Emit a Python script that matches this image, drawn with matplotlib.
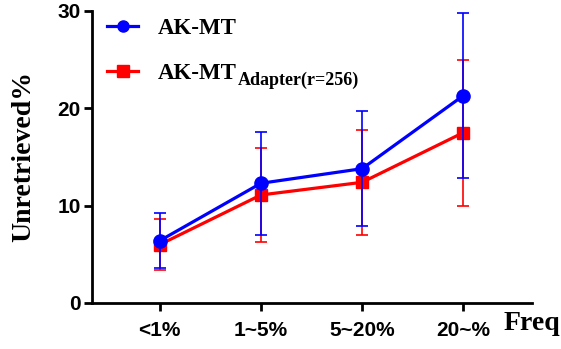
import matplotlib.pyplot as plt
from matplotlib.lines import Line2D
import numpy as np

FREQ = ["<1%", "1~5%", "5~20%", "20~%"]
AKMT = [6.4, 12.3, 13.8, 21.3]
AKMT_ERR = [2.8, 5.3, 5.9, 8.5]
ADAPTER = [6.0, 11.1, 12.4, 17.5]
ADAPTER_ERR = [2.6, 4.8, 5.4, 7.5]

BLUE = "#0000ff"
RED = "#ff0000"
SERIF = {"family": "Liberation Serif", "weight": "bold"}

fig = plt.figure(figsize=(5.61, 3.49), dpi=100)
ax = fig.add_axes([92 / 561, 1 - 303 / 349, 440 / 561, 292 / 349])

x = np.arange(len(FREQ))
ax.errorbar(x, ADAPTER, yerr=ADAPTER_ERR, color=RED, marker="s", ms=9,
            lw=2.3, elinewidth=1.2, capsize=4.5, capthick=1.2, clip_on=False,
            zorder=3)
ax.errorbar(x, AKMT, yerr=AKMT_ERR, color=BLUE, marker="o", ms=9.5,
            lw=2.3, elinewidth=1.2, capsize=4.5, capthick=1.2, clip_on=False,
            zorder=4)

ax.set_xlim(-0.67, 3.68)
ax.set_ylim(0, 30)
ax.set_yticks([0, 10, 20, 30])
ax.set_xticks(x)
ax.set_xticklabels(FREQ)
for s in ["top", "right"]:
    ax.spines[s].set_visible(False)
for s in ["left", "bottom"]:
    ax.spines[s].set_linewidth(2)
ax.tick_params(width=2, length=6, labelsize=15)
ax.tick_params(axis="x", pad=7)
ax.tick_params(axis="y", pad=2)
for lab in ax.get_xticklabels() + ax.get_yticklabels():
    lab.set_fontfamily("Liberation Sans")
    lab.set_fontweight("bold")

ax.set_ylabel("Unretrieved%", fontsize=20, labelpad=15, **SERIF)
fig.text(504 / 561, 1 - 323 / 349, "Freq", fontsize=20, va="center",
         ha="left", **SERIF)

handles = [
    Line2D([], [], color=BLUE, marker="o", ms=8, lw=2.3),
    Line2D([], [], color=RED, marker="s", ms=8, lw=2.3),
]
leg = ax.legend(handles, ["AK-MT", "AK-MT"], frameon=False, loc="upper left",
                bbox_to_anchor=(0.019, 1.0), borderaxespad=0, borderpad=0.3,
                handlelength=1.35, handletextpad=0.85, labelspacing=1.05,
                prop={"size": 16.5, **SERIF})

# subscript after the second legend entry
fig.canvas.draw()
bb = leg.get_texts()[1].get_window_extent()
fx, fy = fig.transFigure.inverted().transform((bb.x1 + 1, bb.y0 - 1))
fig.text(fx, fy, "Adapter(r=256)", fontsize=13, va="baseline", ha="left",
         **SERIF)

fig.savefig("out.png", dpi=100)
